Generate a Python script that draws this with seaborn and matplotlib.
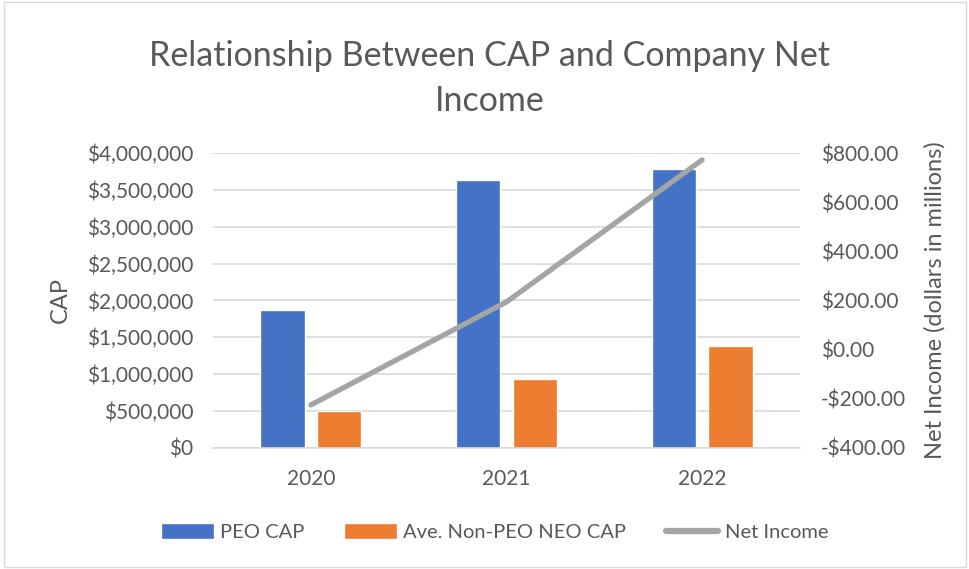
import matplotlib
matplotlib.use("Agg")
import matplotlib.pyplot as plt
import seaborn as sns
import pandas as pd
import numpy as np
from matplotlib.patches import Patch
from matplotlib.lines import Line2D
from matplotlib.ticker import FuncFormatter

years = ["2020", "2021", "2022"]
peo_cap = [1871000, 3634000, 3783000]
non_peo_cap = [495000, 936000, 1383000]
net_income = [-225.0, 194.0, 772.0]
series_names = ["PEO CAP", "Ave. Non-PEO NEO CAP", "Net Income"]

sns.set_theme(style="white")
plt.rcParams['font.family'] = ['Lato', 'DejaVu Sans']

TXT = "#595959"
colors = {"PEO CAP": "#4472C4", "Ave. Non-PEO NEO CAP": "#ED7D31"}
line_color = "#A5A5A5"

df = pd.DataFrame({
    "Year": years * 2,
    "Series": [series_names[0]] * 3 + [series_names[1]] * 3,
    "Value": peo_cap + non_peo_cap,
})

fig = plt.figure(figsize=(9.7, 5.69), dpi=100)
ax = fig.add_axes([0.2196, 0.2127, 0.6051, 0.5184])

sns.barplot(data=df, x="Year", y="Value", hue="Series", palette=colors,
            width=0.577, gap=0.215, ax=ax, legend=False, saturation=1)
ax.set_xlim(-0.5, 2.5)
ax.set_ylim(0, 4000000)
ax.set_yticks(np.arange(0, 4000001, 500000))
ax.yaxis.set_major_formatter(FuncFormatter(lambda v, p: f"${v:,.0f}"))
ax.grid(axis="y", color="#D9D9D9", linewidth=1.2)
ax.set_axisbelow(True)
for s in ["top", "right", "left"]:
    ax.spines[s].set_visible(False)
ax.spines["bottom"].set_color("#D9D9D9")
ax.spines["bottom"].set_linewidth(1.2)
ax.tick_params(axis="y", length=0, labelsize=15, colors=TXT, pad=14)
ax.tick_params(axis="x", length=0, labelsize=15, colors=TXT, pad=15)
ax.set_xlabel("")
ax.set_ylabel("CAP", fontsize=17, color=TXT, labelpad=12)

ax2 = ax.twinx()
ax2.plot(np.arange(len(years)), net_income, color=line_color, linewidth=3.8,
         solid_capstyle="round", zorder=5)
ax2.set_ylim(-400, 800)
ax2.set_yticks(np.arange(-400, 801, 200))
ax2.yaxis.set_major_formatter(FuncFormatter(
    lambda v, p: f"-${abs(v):,.2f}" if v < 0 else f"${v:,.2f}"))
for s in ax2.spines.values():
    s.set_visible(False)
ax2.tick_params(axis="y", length=0, labelsize=15, colors=TXT, pad=15)
ax2.set_ylabel("Net Income (dollars in millions)", fontsize=17, color=TXT, labelpad=13)

fig.text(0.505, 0.862, "Relationship Between CAP and Company Net\nIncome",
         ha="center", va="center", fontsize=24.5, color=TXT, linespacing=1.5)

handles = [Patch(facecolor=colors[series_names[0]], label=series_names[0]),
           Patch(facecolor=colors[series_names[1]], label=series_names[1]),
           Line2D([0], [0], color=line_color, linewidth=4.5, label=series_names[2])]
leg = fig.legend(handles=handles, loc="center", bbox_to_anchor=(0.51, 0.065),
                 ncol=3, frameon=False, fontsize=14.5, handlelength=2.6,
                 handleheight=0.8, columnspacing=2.0, handletextpad=0.3)
for t in leg.get_texts():
    t.set_color(TXT)

fig.patches.append(plt.Rectangle((0.004, 0.004), 0.992, 0.992, transform=fig.transFigure,
                                 fill=False, edgecolor="#D9D9D9", linewidth=1))

fig.savefig("out.png", dpi=100)
